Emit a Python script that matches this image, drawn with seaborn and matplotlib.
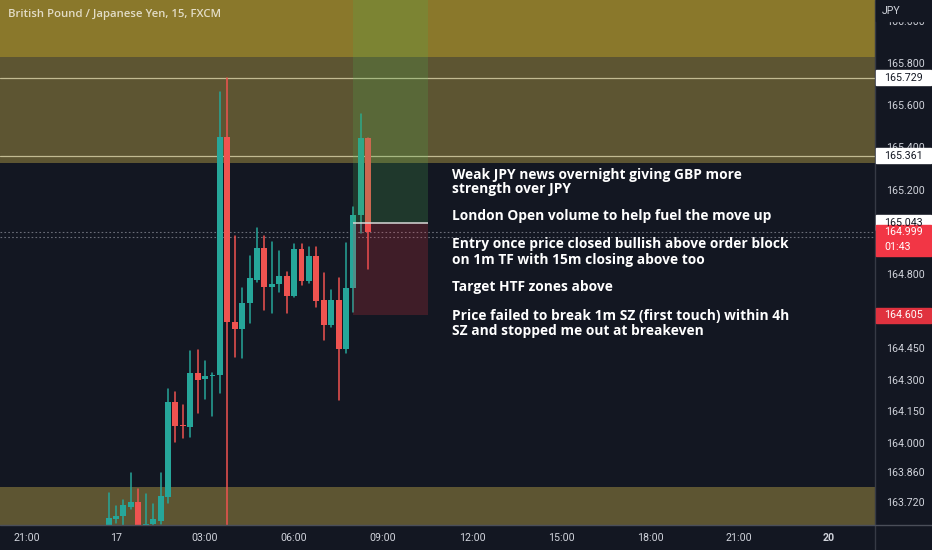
import matplotlib
matplotlib.use("Agg")
import matplotlib.pyplot as plt
import seaborn as sns
import pandas as pd
from matplotlib.patches import Rectangle
from matplotlib.lines import Line2D

# ---------------- data ----------------
candle_times = ["23:45", "00:00", "00:15", "00:30", "00:45", "01:00", "01:15", "01:30",
                "01:45", "02:00", "02:15", "02:30", "02:45", "03:00", "03:15", "03:30",
                "03:45", "04:00", "04:15", "04:30", "04:45", "05:00", "05:15", "05:30",
                "05:45", "06:00", "06:15", "06:30", "06:45", "07:00", "07:15", "07:30",
                "07:45", "08:00", "08:15", "08:30"]
opens = [163.611, 163.639, 163.654, 163.696, 163.720, 163.606, 163.616, 163.630,
         163.744, 164.194, 164.085, 164.075, 164.331, 164.303, 164.317, 164.322,
         165.449, 164.573, 164.540, 164.663, 164.772, 164.923, 164.739, 164.753,
         164.791, 164.696, 164.919, 164.767, 164.886, 164.677, 164.559, 164.677,
         164.445, 164.734, 165.080, 165.445]
highs = [163.763, 163.701, 163.730, 163.857, 163.782, 163.758, 163.711, 163.857,
         164.255, 164.241, 164.180, 164.436, 164.440, 164.388, 164.331, 165.663,
         165.729, 164.980, 164.734, 164.886, 165.018, 164.980, 164.952, 164.909,
         164.810, 164.942, 164.942, 164.928, 164.928, 164.805, 164.724, 164.781,
         164.947, 165.118, 165.558, 165.445]
lows = [163.606, 163.621, 163.611, 163.687, 163.606, 163.602, 163.606, 163.616,
        163.715, 164.004, 164.023, 164.028, 164.142, 164.208, 164.127, 164.236,
        163.450, 164.407, 164.402, 164.568, 164.762, 164.630, 164.616, 164.715,
        164.616, 164.691, 164.748, 164.758, 164.644, 164.488, 164.549, 164.203,
        164.426, 164.620, 164.995, 164.824]
closes = [163.644, 163.654, 163.706, 163.720, 163.611, 163.616, 163.639, 163.748,
          164.194, 164.080, 164.080, 164.331, 164.298, 164.317, 164.322, 165.449,
          164.573, 164.540, 164.663, 164.781, 164.923, 164.739, 164.753, 164.791,
          164.696, 164.919, 164.767, 164.886, 164.672, 164.559, 164.677, 164.445,
          164.734, 165.080, 165.445, 164.999]

# time axis labels: (label, day, hour)
time_labels = ["21:00", "17", "03:00", "06:00", "09:00", "12:00", "15:00", "18:00", "21:00", "20"]
time_days = [16, 17, 17, 17, 17, 17, 17, 17, 17, 18]   # weekend skipped: 20th follows the 17th
time_hours = [21, 0, 3, 6, 9, 12, 15, 18, 21, 0]

price_ticks = [166.000, 165.800, 165.600, 165.400, 165.200, 164.800,
               164.450, 164.300, 164.150, 164.000, 163.860, 163.720]

# supply/demand zones (low, high)
zone_lows = [165.828, 165.326, 163.400]
zone_highs = [166.300, 165.828, 163.791]
zone_colors = ["#8a782b", "#5d5532", "#5d5532"]
level_prices = [165.729, 165.361]

entry_price = 165.043
stop_price = 164.605
last_price = 164.999
countdown = "01:43"
notes = ["Weak JPY news overnight giving GBP more",
         "strength over JPY",
         "London Open volume to help fuel the move up",
         "Entry once price closed bullish above order block",
         "on 1m TF with 15m closing above too",
         "Target HTF zones above",
         "Price failed to break 1m SZ (first touch) within 4h",
         "SZ and stopped me out at breakeven"]

# ---------------- style ----------------
sns.set_theme(style="dark")
plt.rcParams["font.family"] = ["Roboto", "DejaVu Sans"]
BG = "#131722"
GREEN = "#26a69a"
RED = "#ef5350"
TXT = "#d1d4dc"

W, H = 932, 550
fig = plt.figure(figsize=(W / 100, H / 100), dpi=100, facecolor=BG)
AX_R, AX_B = 875, 525
ax = fig.add_axes([0, (H - AX_B) / H, AX_R / W, AX_B / H])
ax.set_facecolor(BG)

def fx(x):
    return x / W

def fy(y):
    return 1 - y / H

n = len(candle_times)
idx = list(range(n))
df = pd.DataFrame({"i": idx, "time": candle_times, "open": opens, "high": highs,
                   "low": lows, "close": closes})
df["dir"] = ["up" if c >= o else "down" for o, c in zip(df.open, df.close)]

# zones
for lo, hi, col in zip(zone_lows, zone_highs, zone_colors):
    ax.axhspan(lo, hi, color=col, lw=0, zorder=0)
for lv in level_prices:
    ax.axhline(lv, color="#c2bb92", lw=0.9, zorder=1)

# dotted price lines
ax.axhline(last_price, color="#6a6d78", lw=0.8, ls=(0, (1.5, 2)), zorder=1)
ax.axhline(last_price - 0.023, color="#6a6d78", lw=0.8, ls=(0, (1.5, 2)), zorder=1)

# wicks via seaborn
wicks = pd.concat([
    df[["i", "high", "dir"]].rename(columns={"high": "price"}),
    df[["i", "low", "dir"]].rename(columns={"low": "price"}),
])
sns.lineplot(data=wicks, x="i", y="price", units="i", estimator=None, hue="dir",
             palette={"up": GREEN, "down": RED}, lw=1.1, legend=False, ax=ax,
             zorder=2, sort=False)

# bodies
body_bottom = df[["open", "close"]].min(axis=1)
body_h = (df.close - df.open).abs().clip(lower=0.006)
ax.bar(df.i, body_h, bottom=body_bottom, width=0.8,
       color=[GREEN if d == "up" else RED for d in df.dir], lw=0, zorder=3)

# long position tool
t0 = idx[candle_times.index("08:00")] - 0.1
t1 = t0 + 10.2
ax.fill_between([t0, t1], entry_price, 166.4, color="#4caf50", alpha=0.22, lw=0, zorder=4)
ax.fill_between([t0, t1], stop_price, entry_price, color="#f23645", alpha=0.2, lw=0, zorder=4)
ax.hlines(entry_price, t0, t1, color="#d8d8d8", lw=1.1, zorder=5)

# limits
x_min, x_max = -14.64, 103.3
ax.set_xlim(x_min, x_max)
ax.set_ylim(163.611, 166.0985)

# x ticks
tick_pos = [((d - 16) * 24 + h - 23.75) * 4 for d, h in zip(time_days, time_hours)]
ax.set_xticks(tick_pos)
ax.set_xticklabels(time_labels)
ax.tick_params(axis="x", length=0, pad=6, labelcolor=TXT, labelsize=7.7)
ax.get_xticklabels()[-1].set_fontweight("bold")

# y ticks on the right
ax.yaxis.tick_right()
ax.set_yticks(price_ticks)
ax.set_yticklabels([f"{v:.3f}" for v in price_ticks])
ax.tick_params(axis="y", length=0, pad=8, labelcolor=TXT, labelsize=7.7)
ax.set_xlabel("")
ax.set_ylabel("")
ax.grid(False)
for s in ax.spines.values():
    s.set_visible(False)

# borders
fig.add_artist(Line2D([fx(AX_R), fx(AX_R)], [0, 1], color="#363a45", lw=1, transform=fig.transFigure))
fig.add_artist(Line2D([0, 1], [fy(AX_B), fy(AX_B)], color="#4a4e59", lw=1, transform=fig.transFigure))

# header of price scale
fig.add_artist(Rectangle((fx(AX_R + 1), fy(21)), fx(W - AX_R), 21 / H, color=BG,
                         transform=fig.transFigure, zorder=2))
fig.text(fx(882), fy(11), "JPY", color=TXT, fontsize=7.7, va="center", ha="left", zorder=3)

# price labels
def price_y_px(p):
    return H - ax.transData.transform((0, p))[1]

def price_box(p, txt, fc, tc, h=15, extra=None):
    yc = price_y_px(p)
    top = yc - 7.5
    fig.add_artist(Rectangle((fx(AX_R + 1), fy(top + h)), fx(55), h / H, color=fc,
                             transform=fig.transFigure, zorder=2))
    fig.text(fx(884), fy(yc), txt, color=tc, fontsize=7.7, va="center", ha="left", zorder=3)
    if extra:
        fig.text(fx(884), fy(yc + 15), extra, color=tc, fontsize=7.7, va="center", ha="left", zorder=3)

price_box(level_prices[0], f"{level_prices[0]:.3f}", "#ffffff", BG)
price_box(level_prices[1], f"{level_prices[1]:.3f}", "#ffffff", BG)
price_box(entry_price, f"{entry_price:.3f}", "#ffffff", BG)
price_box(last_price, f"{last_price:.3f}", "#f23645", "#ffffff", h=31, extra=countdown)
price_box(stop_price, f"{stop_price:.3f}", "#e0323f", "#ffffff")

# title
fig.text(fx(8), fy(14), "British Pound / Japanese Yen, 15, FXCM", color="#e2dcc6",
         fontsize=8.2, fontweight="semibold", va="center", ha="left",
         family=["Open Sans", "DejaVu Sans"])

# annotations
note_y = [175, 189, 216, 244, 260, 287, 316, 331]
for t, y in zip(notes, note_y):
    fig.text(fx(452), fy(y), t, color="#ffffff", fontsize=9.9, fontweight="bold",
             va="center", ha="left", family=["Open Sans", "DejaVu Sans"])

fig.savefig("out.png", dpi=100, facecolor=BG)
